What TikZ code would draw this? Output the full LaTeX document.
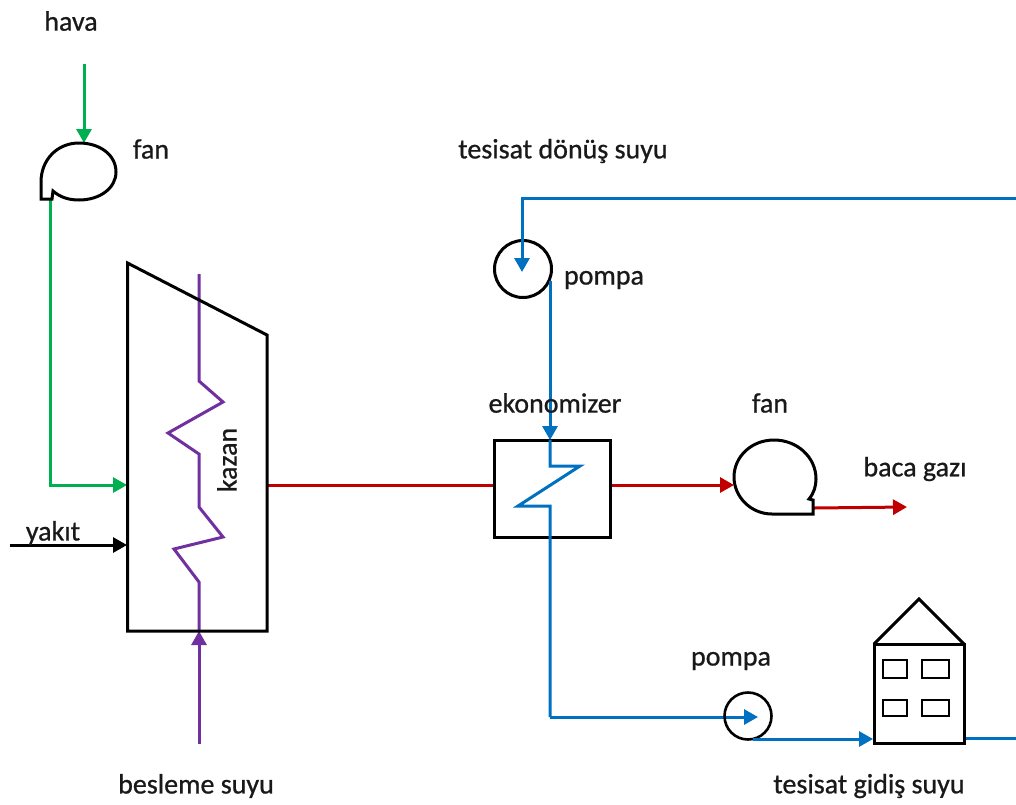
\documentclass[tikz,border=0pt]{standalone}
\usepackage{fontspec}
\setmainfont{Carlito}[RawFeature={embolden=0.8}]
\usetikzlibrary{arrows.meta}
\definecolor{gr}{RGB}{0,176,80}
\definecolor{rd}{RGB}{192,0,0}
\definecolor{bl}{RGB}{0,112,192}
\definecolor{pu}{RGB}{112,48,160}
\tikzset{x=1pt,y=-1pt,
 lab/.style={inner sep=0pt,font=\fontsize{28}{32}\selectfont,text=black!90},
 outl/.style={draw=black,line width=3pt,line join=miter},
 thinoutl/.style={draw=black,line width=1.7pt},
 pipe/.style={line width=3pt,line join=miter},
 flow/.style={pipe,-{Triangle[length=14pt,width=15pt]}},
}
\begin{document}
\begin{tikzpicture}
\useasboundingbox (0,0) rectangle (1016,804);
% coordinates
\coordinate (havaS) at (84,64);
\coordinate (fan1T) at (84,143);
\coordinate (fan1O) at (50,199);
\coordinate (corner1) at (50,485);
\coordinate (kazanL) at (127,485);
\coordinate (yakitS) at (10,545);
\coordinate (kazanL2) at (127,545);
\coordinate (kazanR) at (267,485);
\coordinate (ekoL) at (494,485);
\coordinate (ekoR) at (610,485);
\coordinate (fan2L) at (734,485);
\coordinate (fan2O) at (814,508);
\coordinate (bacaE) at (907,507);
\coordinate (beslemeS) at (199,744);
\coordinate (kazanB) at (199,631);
% green
\draw[flow,gr] (havaS) -- (fan1T);
\draw[flow,gr] (fan1O) -- (corner1) -- (kazanL);
\draw[flow,black] (yakitS) -- (kazanL2);
% red
\draw[pipe,rd] (kazanR) -- (ekoL);
\draw[flow,rd] (ekoR) -- (fan2L);
\draw[flow,rd] (fan2O) -- (bacaE);
% purple
\draw[pipe,pu] (199,274) -- (199,381) -- (223,402) -- (168,433) -- (199,454) -- (199,507) -- (223,537) -- (174,549) -- (199,582) -- (kazanB);
\draw[flow,pu] (beslemeS) -- (kazanB);
% kazan body
\draw[outl] (127.5,263) -- (267,335) -- (267,631) -- (127.5,631) -- cycle;
% fan 1
\draw[outl] (41,199) -- (41,182)
  .. controls (41,160) and (57,143) .. (79,143)
  .. controls (100,143) and (116,155) .. (116,172)
  .. controls (116,188) and (100,200) .. (79,200)
  .. controls (68,200) and (60,197) .. (53,191)
  -- (52,199) -- cycle;
% fan 2
\draw[outl] (774,440)
  .. controls (797,440) and (816,457) .. (816,479)
  .. controls (816,486) and (814,493) .. (809,499)
  -- (813,500) -- (813,514) -- (772,514)
  .. controls (751,514) and (734,497) .. (734,477)
  .. controls (734,457) and (751,440) .. (774,440) -- cycle;
% ekonomizer
\draw[outl] (494,440) rectangle (610,537);
% pump 1
\node[draw=black,line width=3pt,circle,minimum size=57pt,inner sep=0pt] (pump1) at (523,269) {};
% blue
\coordinate (rightT) at (1016,198);
\coordinate (corner2) at (522,198);
\coordinate (p1A) at (522,272);
\draw[flow,bl] (rightT) -- (corner2) -- (p1A);
\draw[flow,bl] (550,281) -- (550,440);
\draw[pipe,bl] (550,440) -- (550,466) -- (580,466) -- (518,506) -- (550,506) -- (550,717);
\coordinate (p2A) at (758,717);
\draw[flow,bl] (550,717) -- (p2A);
\node[draw=black,line width=2.6pt,circle,minimum size=47pt,inner sep=0pt] (pump2) at (748,716) {};
\coordinate (p2O) at (753,739);
\coordinate (houseL) at (873,739);
\draw[flow,bl] (p2O) -- (houseL);
\draw[pipe,bl] (964,738) -- (1016,738);
% house
\draw[outl] (874,644) rectangle (964,743);
\draw[outl] (874,644) -- (919,599) -- (964,644);
\draw[thinoutl] (883,660) rectangle (907,678);
\draw[thinoutl] (922,660) rectangle (949,678);
\draw[thinoutl] (883,700) rectangle (907,716);
\draw[thinoutl] (922,700) rectangle (949,716);
% labels
\node[lab] (thava) at (71,21) {hava};
\node[lab] (tfan1) at (151,149) {fan};
\node[lab] (tdonus) at (563,151) {tesisat dönüş suyu};
\node[lab] (tpompa1) at (604,280) {pompa};
\node[lab] (teko) at (555,403) {ekonomizer};
\node[lab] (tfan2) at (770,403) {fan};
\node[lab] (tbaca) at (915,469) {baca gazı};
\node[lab,rotate=90] (tkazan) at (227,460) {kazan};
\node[lab] (tyakit) at (53,533) {yakıt};
\node[lab] (tpompa2) at (731,661) {pompa};
\node[lab] (tbesleme) at (196,786) {besleme suyu};
\node[lab] (tgidis) at (869,786) {tesisat gidiş suyu};
\end{tikzpicture}
\end{document}
